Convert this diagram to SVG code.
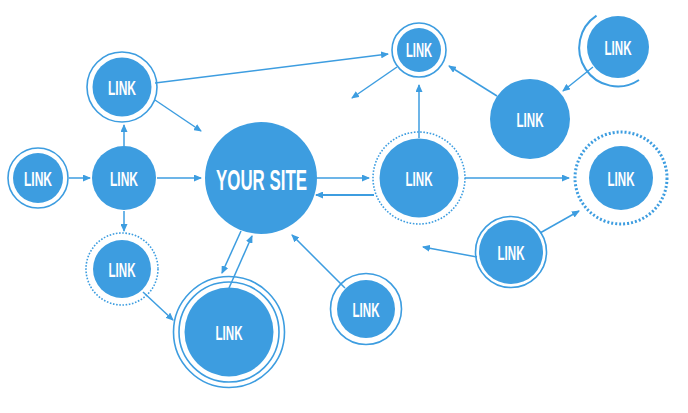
<svg xmlns="http://www.w3.org/2000/svg" width="688" height="413" viewBox="0 0 688 413">
<defs>
<marker id="ah" markerUnits="userSpaceOnUse" markerWidth="8" markerHeight="7" refX="7" refY="3.5" orient="auto">
<path d="M0,0 L8,3.5 L0,7 z" fill="#3d9de0"/>
</marker>
<style>
.n{fill:#3d9de0}
.r{fill:none;stroke:#3d9de0;stroke-width:1.6}
.d{fill:none;stroke:#3d9de0;stroke-width:1.6;stroke-dasharray:1.6 1.6}
.dd{fill:none;stroke:#3d9de0;stroke-width:3;stroke-dasharray:2 2}
.t{fill:#fff;font-family:"Liberation Sans",Arial,sans-serif;font-weight:bold;font-size:20px;text-anchor:middle}
.e{fill:none;stroke:#3d9de0;stroke-width:1.5;marker-end:url(#ah)}
</style>
</defs>
<rect width="688" height="413" fill="#fff"/>
<g id="connectors">
<line class="e" x1="69" y1="178" x2="90" y2="178"/>
<line class="e" x1="157" y1="178" x2="201" y2="178"/>
<line class="e" x1="124" y1="146" x2="124" y2="125"/>
<line class="e" x1="124" y1="211" x2="124" y2="231"/>
<line class="e" x1="155" y1="100" x2="201" y2="131"/>
<line class="e" x1="155" y1="83" x2="388" y2="54"/>
<line class="e" x1="397" y1="67" x2="352" y2="98"/>
<line class="e" x1="419" y1="138" x2="419" y2="85"/>
<line class="e" x1="497" y1="96" x2="449" y2="66"/>
<line class="e" x1="593" y1="67" x2="563" y2="91"/>
<line class="e" x1="317" y1="178" x2="369" y2="178"/>
<line class="e" x1="374" y1="195" x2="316" y2="195" style="stroke-width:2"/>
<line class="e" x1="465" y1="178" x2="569" y2="178"/>
<line class="e" x1="540" y1="233" x2="579" y2="211"/>
<line class="e" x1="477" y1="257" x2="423" y2="247"/>
<line class="e" x1="345" y1="288" x2="292" y2="235"/>
<line class="e" x1="241" y1="231" x2="222" y2="273"/>
<line class="e" x1="229" y1="288" x2="252" y2="236"/>
<line class="e" x1="143" y1="292" x2="173" y2="320"/>
</g>
<g id="site">
<circle class="n" cx="261" cy="178" r="56"/>
<text class="t" x="261.5" y="190" font-size="30" style="font-size:30px" textLength="91" lengthAdjust="spacingAndGlyphs">YOUR SITE</text>
</g>
<g id="link-left">
<circle class="r" cx="38" cy="178" r="30"/>
<circle class="n" cx="38" cy="178" r="25"/>
<text class="t" x="38" y="185.5" textLength="28" lengthAdjust="spacingAndGlyphs">LINK</text>
</g>
<g id="link-mid">
<circle class="n" cx="124" cy="178" r="32"/>
<text class="t" x="124" y="185.5" textLength="28" lengthAdjust="spacingAndGlyphs">LINK</text>
</g>
<g id="link-topleft">
<circle class="r" cx="122" cy="87" r="35"/>
<circle class="n" cx="122" cy="87" r="29.5"/>
<text class="t" x="122" y="94.5" textLength="28" lengthAdjust="spacingAndGlyphs">LINK</text>
</g>
<g id="link-bottomleft">
<circle class="d" cx="122" cy="269" r="36"/>
<circle class="n" cx="122" cy="269" r="29"/>
<text class="t" x="122" y="276.5" textLength="27" lengthAdjust="spacingAndGlyphs">LINK</text>
</g>
<g id="link-bottombig">
<circle class="r" cx="229" cy="332" r="55.5"/>
<circle class="r" cx="229" cy="332" r="50"/>
<circle class="n" cx="229" cy="332" r="44.5"/>
<text class="t" x="229" y="339.5" textLength="27" lengthAdjust="spacingAndGlyphs">LINK</text>
</g>
<g id="link-bottomright">
<circle class="r" cx="366" cy="309" r="35.5"/>
<circle class="n" cx="366" cy="309" r="29"/>
<text class="t" x="366" y="316.5" textLength="27" lengthAdjust="spacingAndGlyphs">LINK</text>
</g>
<g id="link-topcenter">
<circle class="r" cx="419" cy="50" r="27"/>
<circle class="n" cx="419" cy="50" r="22"/>
<text class="t" x="419" y="57" textLength="26" lengthAdjust="spacingAndGlyphs">LINK</text>
</g>
<g id="link-rightmid">
<circle class="d" cx="419" cy="178" r="46"/>
<circle class="n" cx="419" cy="178" r="39.5"/>
<text class="t" x="419" y="185.5" textLength="27" lengthAdjust="spacingAndGlyphs">LINK</text>
</g>
<g id="link-midright">
<circle class="n" cx="530" cy="119" r="40"/>
<text class="t" x="530" y="126.5" textLength="27" lengthAdjust="spacingAndGlyphs">LINK</text>
</g>
<g id="link-topright">
<path class="r" d="M639,80 A38,38 0 0 1 596.5,15.7" style="stroke-width:2"/>
<circle class="n" cx="618" cy="47" r="31"/>
<text class="t" x="618" y="54.5" textLength="27" lengthAdjust="spacingAndGlyphs">LINK</text>
</g>
<g id="link-farright">
<circle class="dd" cx="621" cy="178" r="46"/>
<circle class="n" cx="621" cy="178" r="32"/>
<text class="t" x="621" y="185.5" textLength="27" lengthAdjust="spacingAndGlyphs">LINK</text>
</g>
<g id="link-lowerright">
<circle class="r" cx="511" cy="252" r="35.5"/>
<circle class="n" cx="511" cy="252" r="32"/>
<text class="t" x="511" y="259.5" textLength="27" lengthAdjust="spacingAndGlyphs">LINK</text>
</g>
</svg>
